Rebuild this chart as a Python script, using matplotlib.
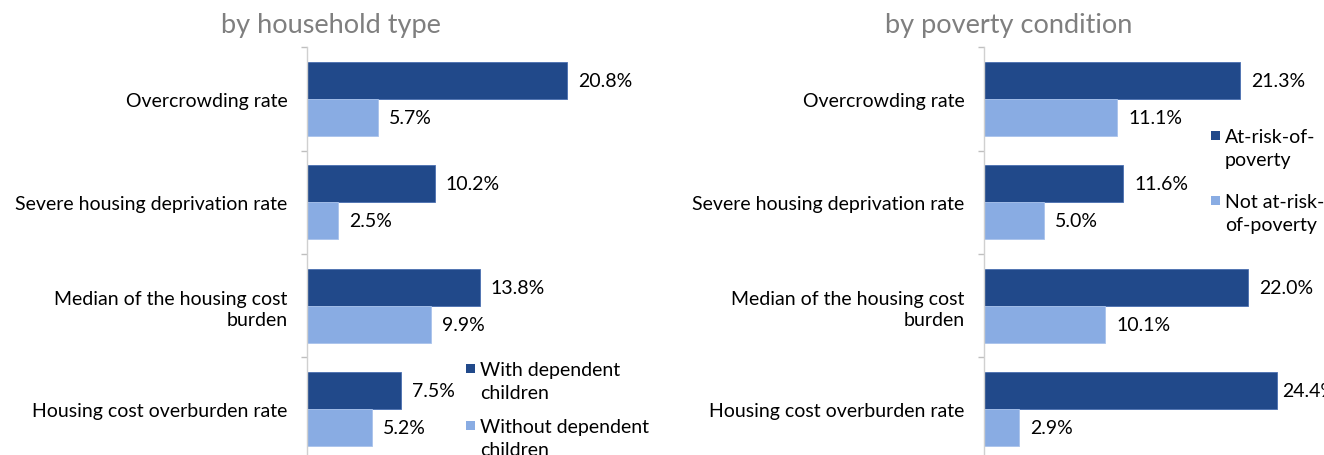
import matplotlib
matplotlib.use("Agg")
import matplotlib.pyplot as plt
import numpy as np
from matplotlib.patches import Rectangle

categories = ["Overcrowding rate", "Severe housing deprivation rate",
              "Median of the housing cost\nburden", "Housing cost overburden rate"]
hh_with = [20.8, 10.2, 13.8, 7.5]
hh_without = [5.7, 2.5, 9.9, 5.2]
pov_at = [21.3, 11.6, 22.0, 24.4]
pov_not = [11.1, 5.0, 10.1, 2.9]
titles = ["by household type", "by poverty condition"]
legend_left = ["With dependent\nchildren", "Without dependent\nchildren"]
legend_right = ["At-risk-of-\npoverty", "Not at-risk-\nof-poverty"]

DARK = "#21498A"
LIGHT = "#89ACE3"
FONT = "Lato"
FS = 14.0

W, H = 1324, 456
fig = plt.figure(figsize=(W / 100, H / 100), dpi=100)

def px_axes(x0, x1, y0, y1):
    return fig.add_axes([x0 / W, 1 - y1 / H, (x1 - x0) / W, (y1 - y0) / H])

def panel(ax, a, b, xmax):
    n = len(categories)
    y = np.arange(n)
    h = 0.357
    ba = ax.barh(y - h / 2, a, height=h, color=DARK, edgecolor="#4A6FB0", linewidth=0.6)
    bb = ax.barh(y + h / 2, b, height=h, color=LIGHT, edgecolor="#A9C3EC", linewidth=0.6)
    ax.set_ylim(n - 0.5, -0.5)
    ax.set_xlim(0, xmax)
    anns = []
    for bars in (ba, bb):
        anns.append(ax.bar_label(bars, labels=[f"{v:.1f}%" for v in bars.datavalues],
                                 padding=8, fontsize=FS, family=FONT, color="#000000",
                                 clip_on=False))
    ax.set_yticks(y)
    ax.set_yticklabels(categories, fontsize=FS, family=FONT, color="#000000",
                       linespacing=1.3)
    ax.set_yticks(np.arange(n + 1) - 0.5, minor=True)
    ax.tick_params(axis="y", which="major", length=0, pad=14)
    ax.tick_params(axis="y", which="minor", length=4, color="#BFBFBF", width=1)
    ax.set_xticks([])
    for s in ("top", "right", "bottom"):
        ax.spines[s].set_visible(False)
    ax.spines["left"].set_color("#D0D0D0")
    ax.spines["left"].set_linewidth(1)
    return anns

# left panel: 12.5 px per %
axL = px_axes(307, 307 + 12.5 * 28, 48, 462)
panel(axL, hh_with, hh_without, 28)
# right panel: 12 px per %
axR = px_axes(984, 984 + 12.0 * 28, 48, 462)
annsR = panel(axR, pov_at, pov_not, 28)
# the label of the longest bar sits closer to its bar (as in the original)
annsR[0][3].xyann = (3.5, 0)

fig.text(331 / W, 1 - 26 / H, titles[0], ha="center", va="center",
         fontsize=19.5, family=FONT, color="#7F7F7F")
fig.text(1009 / W, 1 - 26 / H, titles[1], ha="center", va="center",
         fontsize=19.5, family=FONT, color="#7F7F7F")

def add_legend(labels, x_sq, x_txt, y_lines):
    # y_lines: y (px from top) of the first text line of each entry
    for lab, col, yl in zip(labels, (DARK, LIGHT), y_lines):
        s = 9
        fig.patches.append(Rectangle((x_sq / W, 1 - (yl + s / 2) / H), s / W, s / H,
                                     transform=fig.transFigure, facecolor=col,
                                     edgecolor="none"))
        fig.text(x_txt / W, 1 - (yl - 7) / H, lab, ha="left", va="top",
                 fontsize=FS, family=FONT, color="#000000", linespacing=1.45)

add_legend(legend_left, 466, 480, [369, 426])
add_legend(legend_right, 1211, 1225, [136, 201])

fig.savefig("out.png", dpi=100)
